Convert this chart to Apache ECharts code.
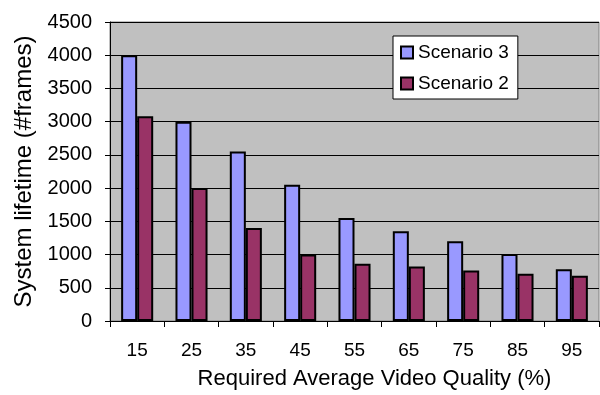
<!DOCTYPE html>
<html>
<head>
<meta charset="utf-8">
<script src="https://cdn.jsdelivr.net/npm/echarts@6/dist/echarts.min.js"></script>
<style>
  html, body { margin: 0; padding: 0; background: #ffffff; }
  #chart { width: 600px; height: 395px; }
</style>
</head>
<body>
<div id="chart"></div>
<script>
// Required average video quality (%) on the x axis
const qualityLevels = ['15', '25', '35', '45', '55', '65', '75', '85', '95'];
// System lifetime in frames for each scenario
const scenario3 = [4000, 3000, 2550, 2050, 1550, 1350, 1200, 1010, 780];
const scenario2 = [3080, 2000, 1400, 1000, 860, 820, 760, 710, 680];
// Y axis range and step
const yMin = 0;
const yMax = 4500;
const yStep = 500;

const font = 'Liberation Sans, Arial, sans-serif';

const chart = echarts.init(document.getElementById('chart'), null, { renderer: 'canvas' });

chart.setOption({
  animation: false,
  backgroundColor: '#ffffff',
  textStyle: { fontFamily: font, color: '#000' },
  grid: {
    left: 110,
    right: 1,
    top: 22,
    bottom: 71,
    show: true,
    backgroundColor: '#c0c0c0',
    borderColor: '#808080',
    borderWidth: 1
  },
  legend: {
    orient: 'vertical',
    left: 393,
    top: 36,
    backgroundColor: '#ffffff',
    borderColor: '#000000',
    borderWidth: 1,
    padding: [7, 9, 6, 7],
    itemWidth: 12,
    itemHeight: 12,
    itemGap: 12,
    icon: 'rect',
    textStyle: { fontFamily: font, fontSize: 19, color: '#000' },
    data: ['Scenario 3', 'Scenario 2']
  },
  xAxis: {
    type: 'category',
    data: qualityLevels,
    name: 'Required Average Video Quality (%)',
    nameLocation: 'middle',
    nameGap: 47,
    nameTextStyle: { fontFamily: font, fontSize: 22, color: '#000', padding: [0, 0, 0, 40] },
    axisLine: { show: true, lineStyle: { color: '#000', width: 1 } },
    axisTick: { show: true, length: 6, lineStyle: { color: '#000' } },
    axisLabel: { margin: 20, fontFamily: font, fontSize: 19, color: '#000' },
    splitLine: { show: false }
  },
  yAxis: {
    type: 'value',
    min: yMin,
    max: yMax,
    interval: yStep,
    name: 'System lifetime (#frames)',
    nameLocation: 'middle',
    nameGap: 72,
    nameTextStyle: { fontFamily: font, fontSize: 24, color: '#000' },
    axisLine: { show: true, lineStyle: { color: '#000', width: 1 } },
    axisTick: { show: true, length: 5, lineStyle: { color: '#000' } },
    axisLabel: {
      margin: 18,
      fontFamily: font,
      fontSize: 20,
      color: '#000',
      formatter: (v) => String(v)
    },
    splitLine: { show: true, lineStyle: { color: '#000', width: 1 } }
  },
  series: [
    {
      name: 'Scenario 3',
      type: 'bar',
      data: scenario3,
      barGap: '0%',
      barCategoryGap: '41%',
      itemStyle: { color: '#9999ff', borderColor: '#000', borderWidth: 2 }
    },
    {
      name: 'Scenario 2',
      type: 'bar',
      data: scenario2,
      barGap: '0%',
      barCategoryGap: '41%',
      itemStyle: { color: '#993366', borderColor: '#000', borderWidth: 2 }
    }
  ]
});
</script>
</body>
</html>
